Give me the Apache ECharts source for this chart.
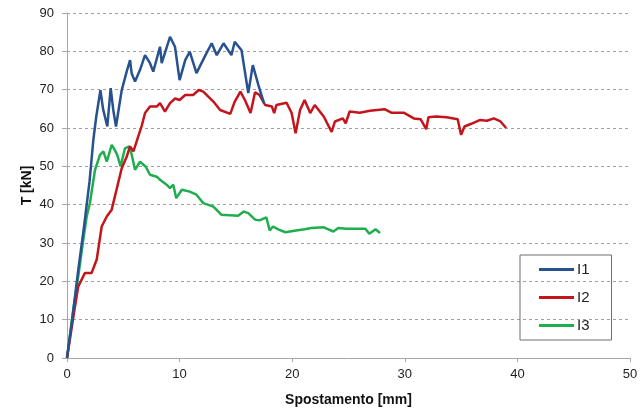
<!DOCTYPE html>
<html>
<head>
<meta charset="utf-8">
<script src="https://cdn.jsdelivr.net/npm/echarts@6/dist/echarts.min.js"></script>
<style>
  html, body { margin: 0; padding: 0; background: #fff; }
  #chart { width: 641px; height: 412px; }
</style>
</head>
<body>
<div id="chart"></div>
<script>
// curve I1
var i1X = [0, 0.5, 1.0, 1.5, 2.0, 2.34, 2.6, 2.97, 3.2, 3.58, 3.88, 4.11, 4.35, 4.86, 5.30, 5.6, 5.74, 6.04, 6.48, 6.93, 7.37, 7.66, 8.26, 8.41, 9.15, 9.59, 10.0, 10.5, 10.9, 11.5, 12.3, 12.85, 13.3, 13.9, 14.6, 14.9, 15.5, 16.1, 16.5, 17.0, 17.5];
var i1Y = [0, 11, 23, 34, 46, 56.9, 63, 69.9, 65.0, 60.4, 70.4, 64.7, 60.4, 69.9, 74.7, 77.7, 74.3, 72.1, 75.1, 79.0, 76.9, 74.7, 81.2, 76.9, 83.8, 81.2, 72.5, 77.7, 79.9, 74.3, 79.0, 82.1, 79.0, 82.1, 79.0, 82.5, 80.3, 69.1, 76.4, 71.2, 66.4];
// curve I2
var i2X = [0, 0.71, 1.0, 1.6, 2.19, 2.64, 3.08, 3.53, 3.97, 4.86, 5.3, 5.6, 5.9, 6.33, 6.63, 6.93, 7.37, 7.97, 8.26, 8.7, 9.15, 9.6, 10.0, 10.5, 11.2, 11.7, 12.1, 13.0, 13.6, 14.5, 14.9, 15.4, 15.8, 16.3, 16.7, 17.1, 17.6, 18.2, 18.4, 18.6, 19.5, 19.95, 20.3, 20.7, 21.1, 21.6, 22.0, 22.8, 23.5, 23.8, 24.5, 24.75, 25.1, 26.0, 26.9, 28.2, 28.8, 29.9, 30.8, 31.4, 31.9, 32.1, 32.8, 33.7, 34.7, 35.0, 35.3, 35.9, 36.7, 37.3, 37.9, 38.5, 39.0];
var i2Y = [0, 13.5, 18.7, 22.2, 22.2, 25.7, 34.3, 36.9, 38.7, 49.5, 52.5, 55.2, 53.9, 57.8, 60.5, 63.9, 65.6, 65.6, 66.5, 64.3, 66.5, 67.7, 67.3, 68.6, 68.6, 69.9, 69.5, 66.9, 64.7, 63.7, 66.9, 69.5, 67.3, 63.9, 69.3, 68.6, 66.0, 65.6, 63.9, 66.0, 66.6, 63.9, 58.6, 64.7, 67.3, 63.9, 66.0, 63.0, 59.0, 61.7, 62.5, 61.2, 64.3, 64.0, 64.5, 64.9, 64.0, 64.0, 62.5, 62.3, 59.7, 62.8, 63.0, 62.8, 62.3, 58.2, 60.4, 61.1, 62.1, 61.9, 62.5, 61.7, 60.0];
// curve I3
var i3X = [0, 0.56, 1.0, 1.45, 1.75, 2.04, 2.49, 2.93, 3.23, 3.53, 3.97, 4.2, 4.46, 4.76, 5.15, 5.53, 5.75, 6.04, 6.48, 7.0, 7.37, 7.97, 8.26, 8.85, 9.15, 9.44, 9.7, 10.2, 10.9, 11.5, 12.1, 13.0, 13.7, 15.2, 15.7, 16.1, 16.7, 17.1, 17.7, 18.0, 18.3, 18.8, 19.4, 20.2, 21.1, 21.7, 22.8, 23.65, 24.1, 24.8, 26.5, 26.85, 27.4, 27.8];
var i3Y = [0, 12.6, 21.3, 30.9, 36.9, 40.5, 49.1, 53.0, 53.9, 51.2, 55.6, 54.5, 53.0, 50.0, 54.7, 55.2, 53.0, 49.1, 51.2, 49.9, 47.8, 47.3, 46.5, 45.2, 44.3, 45.2, 41.7, 43.9, 43.4, 42.6, 40.4, 39.5, 37.4, 37.1, 38.2, 37.8, 36.1, 35.9, 36.7, 33.3, 34.3, 33.5, 32.8, 33.2, 33.6, 33.9, 34.1, 33.0, 33.9, 33.7, 33.7, 32.4, 33.6, 32.6];

var names = ['I1', 'I2', 'I3'];
var colors = ['#27518f', '#c4141c', '#1fae4e'];

function pairs(xs, ys) {
  return xs.map(function(x, i) { return [x, ys[i]]; });
}
var curves = [pairs(i1X, i1Y), pairs(i2X, i2Y), pairs(i3X, i3Y)];

var chart = echarts.init(document.getElementById('chart'), null, { renderer: 'canvas' });
var font = '"Liberation Sans", Arial, sans-serif';
chart.setOption({
  animation: false,
  textStyle: { fontFamily: font },
  grid: { left: 67, right: 11, top: 13, bottom: 54 },
  legend: {
    orient: 'vertical',
    left: 520,
    top: 255,
    data: names,
    icon: 'rect',
    itemWidth: 35,
    itemHeight: 3,
    itemGap: 13,
    padding: [7, 22, 7, 19],
    borderColor: '#6f6f6f',
    borderWidth: 1,
    textStyle: { color: '#222', fontSize: 15, fontFamily: font, padding: [0, 0, 0, -2] }
  },
  xAxis: {
    type: 'value',
    min: 0, max: 50, interval: 10,
    name: 'Spostamento [mm]',
    nameLocation: 'center',
    nameGap: 35,
    nameMoveOverlap: false,
    nameTextStyle: { color: '#111', fontSize: 14, fontWeight: 'bold', fontFamily: font },
    axisLine: { lineStyle: { color: '#a8a8a8', width: 1 } },
    axisTick: { show: true, length: 4, lineStyle: { color: '#a8a8a8' } },
    axisLabel: { color: '#222', fontSize: 13, margin: 10, fontFamily: font },
    splitLine: { show: false }
  },
  yAxis: {
    type: 'value',
    min: 0, max: 90, interval: 10,
    name: 'T [kN]',
    nameLocation: 'center',
    nameGap: 33,
    nameMoveOverlap: false,
    nameRotate: 90,
    nameTextStyle: { color: '#111', fontSize: 14, fontWeight: 'bold', fontFamily: font },
    axisLine: { show: true, lineStyle: { color: '#a8a8a8', width: 1 } },
    axisTick: { show: true, inside: false, length: 5, lineStyle: { color: '#a8a8a8' } },
    axisLabel: { color: '#222', fontSize: 13, margin: 13, fontFamily: font },
    splitLine: { show: true, lineStyle: { color: '#a0a0a0', type: [3, 3], width: 1 } }
  },
  series: names.map(function(n, k) {
    return {
      name: n,
      type: 'line',
      data: curves[k],
      showSymbol: false,
      symbol: 'none',
      color: colors[k],
      lineStyle: { color: colors[k], width: 2.5 },
      z: 3 - k
    };
  })
});
</script>
</body>
</html>
